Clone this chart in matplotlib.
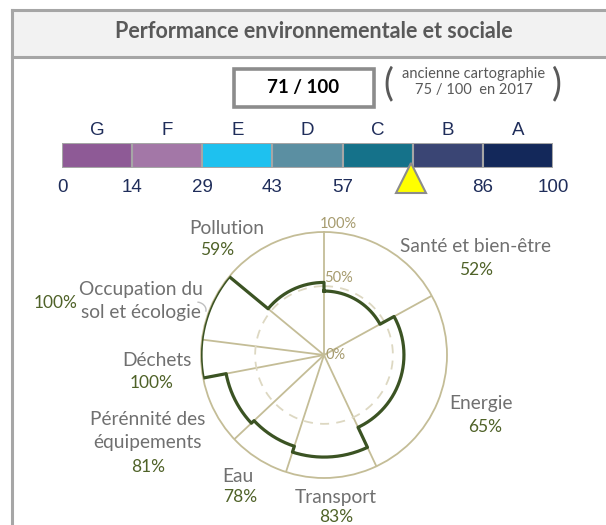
import numpy as np
import matplotlib.pyplot as plt
from matplotlib.patches import Rectangle, Arc

# donnees
titre = 'Performance environnementale et sociale'
score = 71
ancien = 'ancienne cartographie\n75 / 100  en 2017'
classes = ['G', 'F', 'E', 'D', 'C', 'B', 'A']
bornes = [0, 100 / 7, 200 / 7, 300 / 7, 400 / 7, 500 / 7, 600 / 7, 100]
bornes_txt = ['0', '14', '29', '43', '57', '71', '86', '100']
couleurs = ['#8e5a96', '#a377a7', '#1ec1ef', '#5b8fa2', '#15728a', '#3a4574', '#13285a']

themes = ['Santé et bien-être', 'Energie', 'Transport', 'Eau',
          'Pérénnité des\néquipements', 'Déchets', 'Occupation du\nsol et écologie', 'Pollution']
poids = [17, 26, 12, 8, 9, 5, 9, 14]
notes = [52, 65, 83, 78, 81, 100, 100, 59]
anneau = 56

gris = '#707070'
vert = '#4f6228'
trait = '#3b5323'
beige = '#c4bd97'
marine = '#1f2d5a'

plt.rcParams['font.family'] = ['Lato', 'DejaVu Sans']

fig = plt.figure(figsize=(6.06, 5.25), dpi=100)

# cadre et bandeau du titre (coordonnees en pixels)
bg = fig.add_axes([0, 0, 1, 1])
bg.set_xlim(0, 606)
bg.set_ylim(525, 0)
bg.axis('off')
bg.add_patch(Rectangle((12, 10), 600, 47, facecolor='#f2f2f2', edgecolor='none'))
bg.plot([12, 606], [10, 10], color='#a6a6a6', lw=2.2)
bg.plot([12, 606], [57, 57], color='#a6a6a6', lw=2.2)
bg.plot([12, 12], [10, 525], color='#a6a6a6', lw=2.2)
bg.text(314, 32, titre, ha='center', va='center', fontsize=15.5, fontweight='bold', color='#595959')

# note globale
bg.add_patch(Rectangle((234, 69), 140, 38, facecolor='white', edgecolor='#8c8c8c', lw=2.6))
bg.text(303, 88, f'{score} / 100', ha='center', va='center', fontsize=13.5, fontweight='bold', color='black')
bg.text(388, 84, '(', ha='center', va='center', fontsize=27, color='#595959')
bg.text(557, 84, ')', ha='center', va='center', fontsize=27, color='#595959')
bg.text(474, 82, ancien, ha='center', va='center', fontsize=10.5, color='#595959', linespacing=1.2)

# echelle A-G
axb = fig.add_axes([62 / 606, (525 - 168) / 525, 491 / 606, 25 / 525])
largeurs = np.diff(bornes)
axb.barh(0.5, largeurs, left=bornes[:-1], height=1, color=couleurs, edgecolor='#a6a6a6', lw=1.5)
axb.set_xlim(0, 100)
axb.set_ylim(0, 1)
for s in axb.spines.values():
    s.set_visible(False)
axb.set_yticks([])
axb.set_xticks(bornes)
axb.set_xticklabels(bornes_txt, family='Liberation Sans', fontsize=13.5, color=marine)
axb.tick_params(axis='x', length=0, pad=8)
for i, c in enumerate(classes):
    axb.text((bornes[i] + bornes[i + 1]) / 2, 1.5, c, ha='center', va='center',
             family='Liberation Sans', fontsize=13.5, color=marine)
axb.plot(score, -0.38, marker='^', markersize=21, color='#ffff00',
         markeredgecolor='#8c8c8c', markeredgewidth=1.5, clip_on=False, zorder=5)

# rose des themes
R = 123
ax = fig.add_axes([(324 - R) / 606, (525 - 355 - R) / 525, 2 * R / 606, 2 * R / 525], projection='polar')
ax.set_theta_zero_location('N')
ax.set_theta_direction(-1)
ax.set_ylim(0, 100)
ax.grid(False)
ax.set_xticks([])
ax.set_yticks([])
ax.spines['polar'].set_color(beige)
ax.spines['polar'].set_linewidth(1.3)
ax.patch.set_alpha(0)

limites = np.deg2rad(np.concatenate([[0], np.cumsum(poids)]) * 3.6)
for th in limites[:-1]:
    ax.plot([th, th], [0, 100], color=beige, lw=1.3)
cercle = np.linspace(0, 2 * np.pi, 300)
ax.plot(cercle, np.full_like(cercle, anneau), color='#ddd8c2', lw=1.3, ls=(0, (5, 4)))

th_all, r_all = [], []
for i in range(len(poids)):
    th = np.linspace(limites[i], limites[i + 1], 60)
    th_all.extend(th)
    r_all.extend([notes[i]] * len(th))
th_all.append(th_all[0])
r_all.append(r_all[0])
ax.plot(th_all, r_all, color=trait, lw=2.3, zorder=4)

ax.annotate('100%', (0, 100), xytext=(-3, 1), textcoords='offset points',
            ha='left', va='bottom', fontsize=10.5, color='#a69b6e')
ax.annotate('50%', (0, anneau), xytext=(0, 1), textcoords='offset points',
            ha='left', va='bottom', fontsize=10.5, color='#a69b6e')
ax.annotate('0%', (0, 0), xytext=(1, 0), textcoords='offset points',
            ha='left', va='center', fontsize=10.5, color='#a69b6e')

# etiquettes des themes (pixels)
pos_nom = [(476, 247), (481, 404), (336, 497), (238, 476), (148, 431), (157, 361), (141, 301), (227, 229)]
pos_val = [(476, 270), (485, 427), (336, 517), (240, 497), (148, 467), (152, 383), (56, 303), (217, 250)]
for i in range(len(themes)):
    bg.text(*pos_nom[i], themes[i], ha='center', va='center', fontsize=13.8, color=gris, linespacing=1.4)
    bg.text(*pos_val[i], f'{notes[i]}%', ha='center', va='center', fontsize=12.5, color=vert)
bg.add_patch(Arc((196, 310), 20, 16, theta1=-80, theta2=10, color='#bfbfbf', lw=1))

plt.savefig('out.png', dpi=100)
